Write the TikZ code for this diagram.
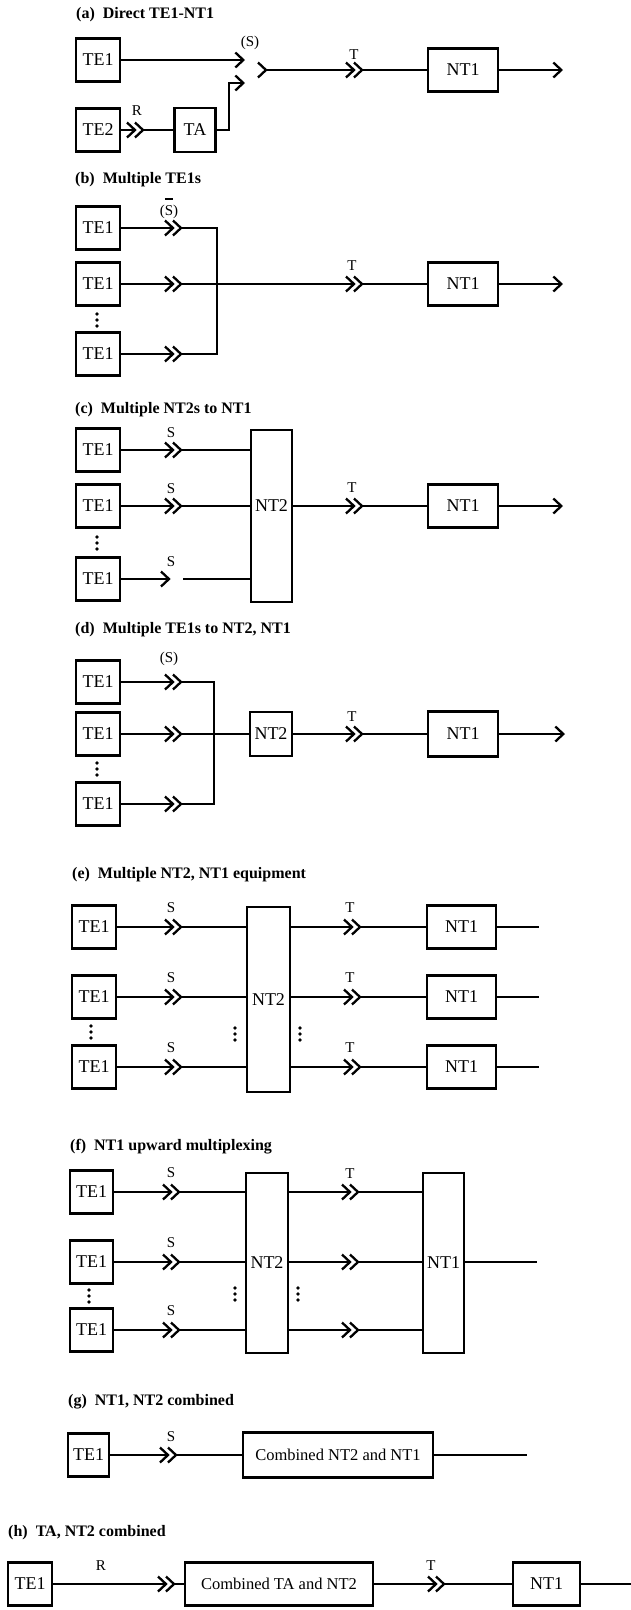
\documentclass[tikz,border=0pt]{standalone}
\usepackage{fontspec}
\setmainfont{Liberation Serif}
\usetikzlibrary{arrows.meta}
\tikzset{
  box/.style={draw, rectangle, line width=2.3pt, inner sep=0pt, font=\fontsize{18}{18}\selectfont},
  te/.style={box, minimum width=44pt, minimum height=43pt},
  ntone/.style={box, minimum width=70pt, minimum height=43pt},
  combo/.style={box, font=\fontsize{16.5}{16.5}\selectfont},
  ttl/.style={anchor=west, inner sep=0pt, font=\fontsize{16}{16}\selectfont\bfseries},
  lab/.style={inner sep=0pt, font=\fontsize{15}{15}\selectfont},
  conn/.style={line width=2.3pt},
  tipped/.style={line width=2.3pt, -{Straight Barb[length=8pt,width=15pt]}},
  chev/.style={line width=2.3pt, line join=miter},
  threedots/.pic={\fill (0,-6) circle (1.8pt) (0,0) circle (1.8pt) (0,6) circle (1.8pt);},
  dchev/.pic={\coordinate (-in) at (0,0); \coordinate (-out) at (8,0);
     \draw[chev] (-8,-7.5) -- (0,0) -- (-8,7.5); \draw[chev] (0,-7.5) -- (8,0) -- (0,7.5);},
  schev/.pic={\coordinate (-in) at (0,0);
     \draw[chev] (-8,-7.5) -- (0,0) -- (-8,7.5);},
}
\begin{document}
\begin{tikzpicture}[x=1pt,y=-1pt]
\useasboundingbox (0,0) rectangle (631,1610);

% ---------- (a)
\node[ttl] (tA) at (76,15) {(a)\ \ Direct TE1-NT1};
\node[te] (aTE1) at (98,60) {TE1};
\node[te] (aTE2) at (98,130) {TE2};
\node[box, minimum width=41pt, minimum height=44pt] (aTA) at (195,130) {TA};
\node[ntone] (aNT1) at (463,70) {NT1};
\pic (aR) at (135,130) {dchev};
\pic (aS) at (266,70) {schev};
\pic (aT) at (354,70) {dchev};
\coordinate (aU) at (245,60);
\coordinate (aL) at (245,83);
\coordinate (aK) at (229,83);
\coordinate (aEnd) at (563,70);
\draw[tipped] (aTE1.east) -- (aU);
\draw[conn] (aTE2.east) -- (aR-in);
\draw[conn] (aR-out) -- (aTA.west);
\draw[tipped] (aTA.east) -| (aK) -- (aL);
\draw[conn] (aS-in) -- (aT-in);
\draw[conn] (aT-out) -- (aNT1.west);
\draw[tipped] (aNT1.east) -- (aEnd);
\node[lab] (aRl) at (137,111) {R};
\node[lab] (aSl) at (250,43) {(S)};
\node[lab] (aTl) at (354,55) {T};

% ---------- (b)
\node[ttl] (tB) at (75,180) {(b)\ \ Multiple TE1s};
\node[te] (b1) at (98,228) {TE1};
\node[te] (b2) at (98,284) {TE1};
\node[te] (b3) at (98,354) {TE1};
\pic at (97,320) {threedots};
\pic (bS1) at (173,228) {dchev};
\pic (bS2) at (173,284) {dchev};
\pic (bS3) at (173,354) {dchev};
\coordinate (bTop) at (217,228);
\coordinate (bBot) at (217,354);
\draw[conn] (b1.east) -- (bS1-in);
\draw[conn] (b2.east) -- (bS2-in);
\draw[conn] (b3.east) -- (bS3-in);
\draw[conn] (bS1-out) -- (bTop) -- (bBot) -- (bS3-out);
\pic (bT) at (354,284) {dchev};
\draw[conn] (bS2-out) -- (bT-in);
\node[ntone] (bNT1) at (463,284) {NT1};
\draw[conn] (bT-out) -- (bNT1.west);
\coordinate (bEnd) at (563,284);
\draw[tipped] (bNT1.east) -- (bEnd);
\node[lab] (bSl) at (169,212) {(\makebox[0pt][l]{\smash{\raisebox{16pt}{\rule{8pt}{1.4pt}}}}S)};
\node[lab] (bTl) at (352,266) {T};

% ---------- (c)
\node[ttl] (tC) at (75,410) {(c)\ \ Multiple NT2s to NT1};
\node[te] (c1) at (98,450) {TE1};
\node[te] (c2) at (98,506) {TE1};
\node[te] (c3) at (98,579) {TE1};
\pic at (97,543) {threedots};
\pic (cS1) at (173,450) {dchev};
\pic (cS2) at (173,506) {dchev};
\pic (cS3) at (169,579) {schev};
\coordinate (cG) at (183,579);
\node[box, minimum width=41pt, minimum height=172pt, text height=12pt, text depth=22pt] (cNT2) at (271.5,516) {NT2};
\draw[conn] (c1.east) -- (cS1-in);
\draw[conn] (c2.east) -- (cS2-in);
\draw[conn] (c3.east) -- (cS3-in);
\draw[conn] (cS1-out) -- (cNT2.west |- cS1-out);
\draw[conn] (cS2-out) -- (cNT2.west |- cS2-out);
\draw[conn] (cG) -- (cNT2.west |- cG);
\pic (cT) at (354,506) {dchev};
\draw[conn] (cNT2.east |- cT-in) -- (cT-in);
\node[ntone] (cNT1) at (463,506) {NT1};
\draw[conn] (cT-out) -- (cNT1.west);
\coordinate (cEnd) at (563,506);
\draw[tipped] (cNT1.east) -- (cEnd);
\node[lab] (cSl1) at (171,433) {S};
\node[lab] (cSl2) at (171,489) {S};
\node[lab] (cSl3) at (171,562) {S};
\node[lab] (cTl) at (352,488) {T};

% ---------- (d)
\node[ttl] (tD) at (75,630) {(d)\ \ Multiple TE1s to NT2, NT1};
\node[te] (d1) at (98,682) {TE1};
\node[te] (d2) at (98,734) {TE1};
\node[te] (d3) at (98,804) {TE1};
\pic at (97,769) {threedots};
\pic (dS1) at (173,682) {dchev};
\pic (dS2) at (173,734) {dchev};
\pic (dS3) at (173,804) {dchev};
\coordinate (dTop) at (214,682);
\coordinate (dBot) at (214,804);
\draw[conn] (d1.east) -- (dS1-in);
\draw[conn] (d2.east) -- (dS2-in);
\draw[conn] (d3.east) -- (dS3-in);
\draw[conn] (dS1-out) -- (dTop) -- (dBot) -- (dS3-out);
\node[box, minimum width=42pt, minimum height=44pt] (dNT2) at (271,734) {NT2};
\draw[conn] (dS2-out) -- (dNT2.west);
\pic (dT) at (354,734) {dchev};
\draw[conn] (dNT2.east) -- (dT-in);
\node[ntone, minimum height=45pt] (dNT1) at (463,734) {NT1};
\draw[conn] (dT-out) -- (dNT1.west);
\coordinate (dEnd) at (565,734);
\draw[tipped] (dNT1.east) -- (dEnd);
\node[lab] (dSl) at (169,659) {(S)};
\node[lab] (dTl) at (352,717) {T};

% ---------- (e)
\node[ttl] (tE) at (72,875) {(e)\ \ Multiple NT2, NT1 equipment};
\node[te] (e1) at (94,927) {TE1};
\node[te] (e2) at (94,997) {TE1};
\node[te] (e3) at (94,1067) {TE1};
\pic at (91,1032) {threedots};
\pic (eS1) at (173,927) {dchev};
\pic (eS2) at (173,997) {dchev};
\pic (eS3) at (173,1067) {dchev};
\node[box, minimum width=43pt, minimum height=185pt] (eNT2) at (268.5,999.5) {NT2};
\pic at (235,1034) {threedots};
\pic at (300,1034) {threedots};
\draw[conn] (e1.east) -- (eS1-in);
\draw[conn] (e2.east) -- (eS2-in);
\draw[conn] (e3.east) -- (eS3-in);
\draw[conn] (eS1-out) -- (eNT2.west |- eS1-out);
\draw[conn] (eS2-out) -- (eNT2.west |- eS2-out);
\draw[conn] (eS3-out) -- (eNT2.west |- eS3-out);
\pic (eT1) at (352,927) {dchev};
\pic (eT2) at (352,997) {dchev};
\pic (eT3) at (352,1067) {dchev};
\draw[conn] (eNT2.east |- eT1-in) -- (eT1-in);
\draw[conn] (eNT2.east |- eT2-in) -- (eT2-in);
\draw[conn] (eNT2.east |- eT3-in) -- (eT3-in);
\node[ntone, minimum width=69pt] (eN1) at (461.5,927) {NT1};
\node[ntone, minimum width=69pt] (eN2) at (461.5,997) {NT1};
\node[ntone, minimum width=69pt] (eN3) at (461.5,1067) {NT1};
\draw[conn] (eT1-out) -- (eN1.west);
\draw[conn] (eT2-out) -- (eN2.west);
\draw[conn] (eT3-out) -- (eN3.west);
\coordinate (eE1) at (539,927);
\coordinate (eE2) at (539,997);
\coordinate (eE3) at (539,1067);
\draw[conn] (eN1.east) -- (eE1);
\draw[conn] (eN2.east) -- (eE2);
\draw[conn] (eN3.east) -- (eE3);
\node[lab] (eSl1) at (171,908) {S};
\node[lab] (eSl2) at (171,978) {S};
\node[lab] (eSl3) at (171,1048) {S};
\node[lab] (eTl1) at (350,908) {T};
\node[lab] (eTl2) at (350,978) {T};
\node[lab] (eTl3) at (350,1048) {T};

% ---------- (f)
\node[ttl] (tF) at (70,1147) {(f)\ \ NT1 upward multiplexing};
\node[te, minimum width=43pt] (f1) at (91.5,1192) {TE1};
\node[te, minimum width=43pt] (f2) at (91.5,1262) {TE1};
\node[te, minimum width=43pt] (f3) at (91.5,1330) {TE1};
\pic at (89,1296) {threedots};
\pic (fS1) at (171,1192) {dchev};
\pic (fS2) at (171,1262) {dchev};
\pic (fS3) at (171,1330) {dchev};
\node[box, minimum width=42pt, minimum height=180pt] (fNT2) at (267,1263) {NT2};
\pic at (235,1294) {threedots};
\pic at (298,1294) {threedots};
\draw[conn] (f1.east) -- (fS1-in);
\draw[conn] (f2.east) -- (fS2-in);
\draw[conn] (f3.east) -- (fS3-in);
\draw[conn] (fS1-out) -- (fNT2.west |- fS1-out);
\draw[conn] (fS2-out) -- (fNT2.west |- fS2-out);
\draw[conn] (fS3-out) -- (fNT2.west |- fS3-out);
\pic (fT1) at (350,1192) {dchev};
\pic (fT2) at (350,1262) {dchev};
\pic (fT3) at (350,1330) {dchev};
\draw[conn] (fNT2.east |- fT1-in) -- (fT1-in);
\draw[conn] (fNT2.east |- fT2-in) -- (fT2-in);
\draw[conn] (fNT2.east |- fT3-in) -- (fT3-in);
\node[box, minimum width=41pt, minimum height=180pt] (fNT1) at (443.5,1263) {NT1};
\draw[conn] (fT1-out) -- (fNT1.west |- fT1-out);
\draw[conn] (fT2-out) -- (fNT1.west |- fT2-out);
\draw[conn] (fT3-out) -- (fNT1.west |- fT3-out);
\coordinate (fE2) at (537,1262);
\draw[conn] (fNT1.east |- fE2) -- (fE2);
\node[lab] (fSl1) at (171,1173) {S};
\node[lab] (fSl2) at (171,1243) {S};
\node[lab] (fSl3) at (171,1311) {S};
\node[lab] (fTl1) at (350,1174) {T};

% ---------- (g)
\node[ttl] (tG) at (68,1402) {(g)\ \ NT1, NT2 combined};
\node[te, minimum width=41pt] (g1) at (88.5,1455) {TE1};
\pic (gS) at (168,1455) {dchev};
\node[combo, minimum width=190pt, minimum height=45pt] (gC) at (338,1455) {Combined NT2 and NT1};
\coordinate (gE) at (527,1455);
\draw[conn] (g1.east) -- (gS-in);
\draw[conn] (gS-out) -- (gC.west);
\draw[conn] (gC.east) -- (gE);
\node[lab] (gSl) at (171,1437) {S};

% ---------- (h)
\node[ttl] (tH) at (8,1533) {(h)\ \ TA, NT2 combined};
\node[te] (h1) at (30,1584) {TE1};
\pic (hR) at (166,1584) {dchev};
\node[combo, minimum width=188pt, minimum height=43pt] (hC) at (279,1584) {Combined TA and NT2};
\pic (hT) at (436,1584) {dchev};
\node[ntone, minimum width=67pt] (hN) at (546.5,1584) {NT1};
\coordinate (hE) at (631,1584);
\draw[conn] (h1.east) -- (hR-in);
\draw[conn] (hR-out) -- (hC.west);
\draw[conn] (hC.east) -- (hT-in);
\draw[conn] (hT-out) -- (hN.west);
\draw[conn] (hN.east) -- (hE);
\node[lab] (hRl) at (101,1566) {R};
\node[lab] (hTl) at (431,1566) {T};
\end{tikzpicture}
\end{document}
